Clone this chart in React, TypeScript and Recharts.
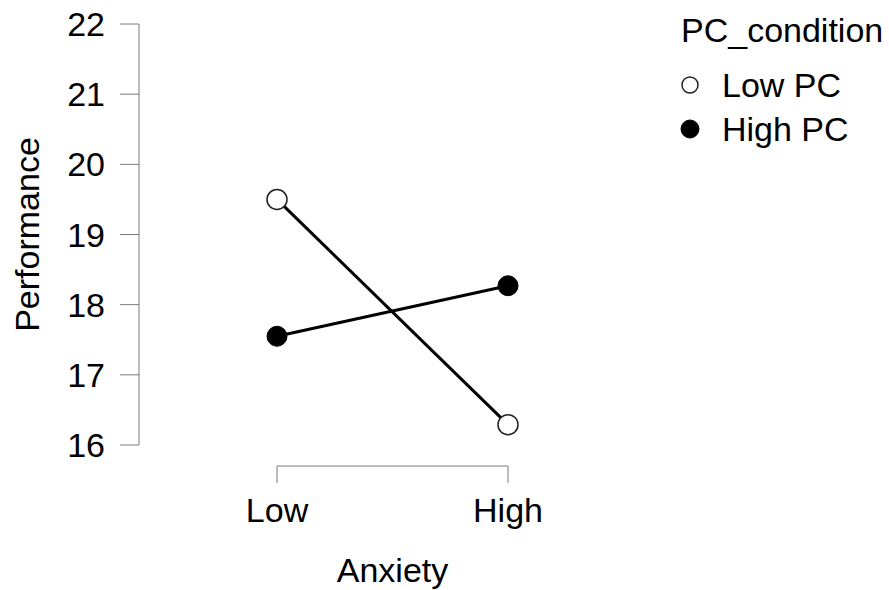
import React from 'react';
import { LineChart, Line, XAxis, YAxis, Legend, ReferenceLine } from 'recharts';

// Interaction plot: Performance by Anxiety level, split by PC condition
const anxietyLevels = ['Low', 'High'];
const lowPC = [19.5, 16.29];
const highPC = [17.55, 18.27];
const yTicks = [16, 17, 18, 19, 20, 21, 22];
const seriesNames = ['Low PC', 'High PC'];
const legendTitle = 'PC_condition';

const data = anxietyLevels.map((level, i) => ({
  anxiety: level,
  lowPC: lowPC[i],
  highPC: highPC[i],
}));

const FONT = '"Liberation Sans", Arial, Helvetica, sans-serif';
const FONT_SIZE = 34;
const AXIS = '#7a7a7a';
const BRACKET_Y = 15.7;

const XTick = (props: any) => {
  const { x, y, payload } = props;
  return (
    <g>
      <line x1={x} x2={x} y1={y + 21} y2={y + 38} stroke={AXIS} strokeWidth={1} />
      <text x={x} y={y + 77} textAnchor="middle" fontSize={FONT_SIZE} fontFamily={FONT} fill="#000">
        {payload.value}
      </text>
    </g>
  );
};

const XTitle = (props: any) => {
  const vb = props.viewBox || {};
  return (
    <text
      x={vb.x + 138 + (vb.width - 138 - 152) / 2}
      y={vb.y + 137}
      textAnchor="middle"
      fontSize={FONT_SIZE}
      fontFamily={FONT}
      fill="#000"
    >
      Anxiety
    </text>
  );
};

const YTitle = (props: any) => {
  const vb = props.viewBox || {};
  const cx = vb.x + 27;
  const cy = vb.y + vb.height / 2;
  return (
    <text
      x={cx}
      y={cy}
      transform={`rotate(-90, ${cx}, ${cy})`}
      textAnchor="middle"
      dominantBaseline="central"
      fontSize={FONT_SIZE}
      fontFamily={FONT}
      fill="#000"
    >
      Performance
    </text>
  );
};

const LegendBox = () => (
  <svg width={220} height={150} style={{ display: 'block' }}>
    <text x={12} y={42} fontSize={FONT_SIZE} fontFamily={FONT} fill="#000">
      {legendTitle}
    </text>
    <circle cx={21} cy={85} r={8} fill="#fff" stroke="#222" strokeWidth={1.5} />
    <text x={53} y={97} fontSize={FONT_SIZE} fontFamily={FONT} fill="#000">
      {seriesNames[0]}
    </text>
    <circle cx={21} cy={129} r={9} fill="#000" stroke="#000" strokeWidth={1} />
    <text x={53} y={141} fontSize={FONT_SIZE} fontFamily={FONT} fill="#000">
      {seriesNames[1]}
    </text>
  </svg>
);

export default function App() {
  return (
    <div style={{ position: 'absolute', left: 0, top: 0, width: 889, height: 590, background: '#fff' }}>
      <LineChart width={889} height={590} data={data} margin={{ top: 24, right: 229, bottom: 0, left: 0 }}>
        <XAxis
          dataKey="anxiety"
          padding={{ left: 138, right: 152 }}
          axisLine={false}
          tickLine={false}
          tickSize={0}
          tickMargin={0}
          height={145}
          tick={<XTick />}
          label={<XTitle />}
        />
        <YAxis
          type="number"
          domain={[16, 22]}
          ticks={yTicks}
          width={139}
          tickSize={19}
          tickMargin={15}
          axisLine={{ stroke: AXIS, strokeWidth: 1 }}
          tickLine={{ stroke: AXIS, strokeWidth: 1 }}
          tick={{ fontSize: FONT_SIZE, fontFamily: FONT, fill: '#000' }}
          label={<YTitle />}
        />
        <ReferenceLine
          segment={[
            { x: anxietyLevels[0], y: BRACKET_Y },
            { x: anxietyLevels[anxietyLevels.length - 1], y: BRACKET_Y },
          ]}
          stroke={AXIS}
          strokeWidth={1}
          ifOverflow="visible"
        />
        <Line
          dataKey="lowPC"
          name={seriesNames[0]}
          stroke="#000"
          strokeWidth={3}
          isAnimationActive={false}
          dot={{ r: 10, fill: '#fff', stroke: '#222', strokeWidth: 1.5 }}
        />
        <Line
          dataKey="highPC"
          name={seriesNames[1]}
          stroke="#000"
          strokeWidth={3}
          isAnimationActive={false}
          dot={{ r: 10, fill: '#000', stroke: '#000', strokeWidth: 1 }}
        />
        <Legend
          layout="vertical"
          align="center"
          verticalAlign="middle"
          wrapperStyle={{ left: 669, top: 0, width: 220 }}
          content={<LegendBox />}
        />
      </LineChart>
    </div>
  );
}
